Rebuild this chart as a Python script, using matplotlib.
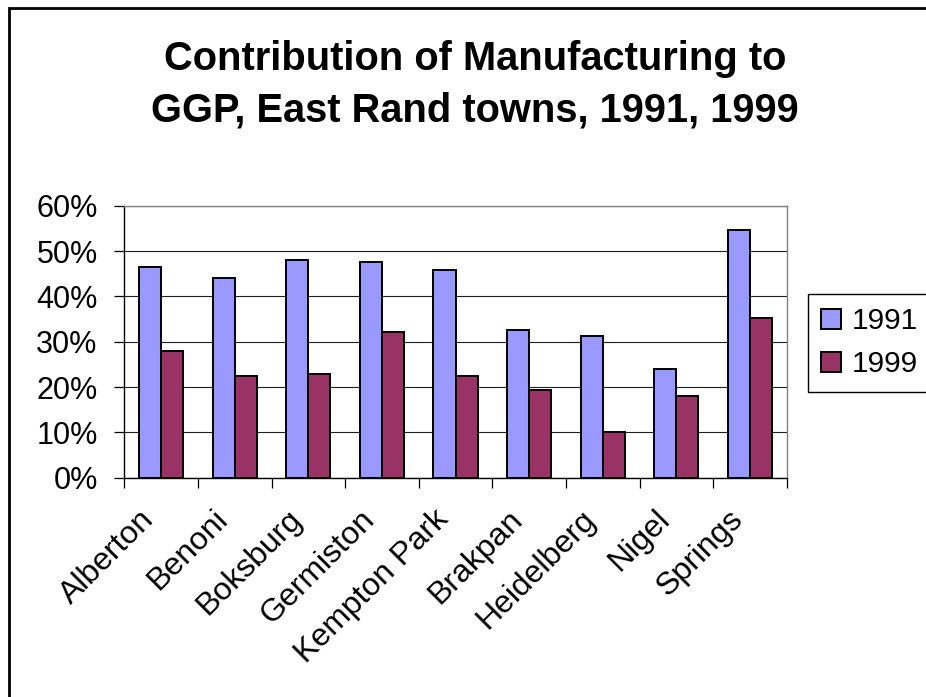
import matplotlib
matplotlib.use("Agg")
import matplotlib.pyplot as plt
import matplotlib.transforms as mtransforms
from matplotlib.patches import Rectangle
import numpy as np

towns = ["Alberton", "Benoni", "Boksburg", "Germiston", "Kempton Park",
         "Brakpan", "Heidelberg", "Nigel", "Springs"]
v1991 = [46.4, 44.0, 48.0, 47.6, 45.8, 32.6, 31.3, 23.9, 54.7]
v1999 = [27.9, 22.4, 22.9, 32.2, 22.4, 19.3, 10.1, 18.0, 35.2]
series_names = ["1991", "1999"]
yticks = [0, 10, 20, 30, 40, 50, 60]
ytick_labels = ["0%", "10%", "20%", "30%", "40%", "50%", "60%"]
title_lines = ["Contribution of Manufacturing to", "GGP, East Rand towns, 1991, 1999"]

c1991 = "#9999FF"
c1999 = "#993366"

plt.rcParams["font.family"] = ["Liberation Sans", "DejaVu Sans"]

W, H = 926, 697
fig = plt.figure(figsize=(W / 100, H / 100), dpi=100)
fig.patch.set_facecolor("white")

ax = fig.add_axes([124.3 / W, 1 - 477.7 / H, (786.7 - 124.3) / W, (477.7 - 205.7) / H])

x = np.arange(len(towns))
bw = 0.3
b1 = ax.bar(x - bw / 2, v1991, width=bw, color=c1991, edgecolor="black", linewidth=1.4,
            label=series_names[0], zorder=3)
b2 = ax.bar(x + bw / 2, v1999, width=bw, color=c1999, edgecolor="black", linewidth=1.4,
            label=series_names[1], zorder=3)

ax.set_xlim(-0.5, len(towns) - 0.5)
ax.set_ylim(0, 60)
ax.set_yticks(yticks)
ax.set_yticklabels(ytick_labels, fontsize=22)
ax.yaxis.grid(True, color="#202020", linewidth=0.8, zorder=0)
ax.set_axisbelow(True)
ax.tick_params(axis="y", direction="out", length=7.2, width=0.9, color="black", pad=12)

ax.set_xticks(x)
ax.set_xticks(np.arange(len(towns) + 1) - 0.5, minor=True)
ax.tick_params(axis="x", which="major", length=0, pad=19)
ax.tick_params(axis="x", which="minor", direction="out", length=7.2, width=0.9, color="black")
labels = ax.set_xticklabels(towns, fontsize=23, rotation=45, ha="right", va="top",
                            rotation_mode="anchor")
offset = mtransforms.ScaledTranslation(-22 / 100, 0, fig.dpi_scale_trans)
for lab in ax.get_xticklabels():
    lab.set_transform(lab.get_transform() + offset)

for s in ["left", "bottom"]:
    ax.spines[s].set_color("black")
    ax.spines[s].set_linewidth(1.0)
for s in ["top", "right"]:
    ax.spines[s].set_color("#808080")
    ax.spines[s].set_linewidth(1.0)

# title
fig.text(475 / W, 1 - 70 / H, title_lines[0], ha="center", va="baseline",
         fontsize=28.7, fontweight="bold")
fig.text(475 / W, 1 - 121 / H, title_lines[1], ha="center", va="baseline",
         fontsize=28.7, fontweight="bold")

# legend
leg = fig.legend(handles=[b1, b2], labels=series_names, loc="upper left",
                 bbox_to_anchor=(808 / W, 1 - 294 / H), bbox_transform=fig.transFigure,
                 fontsize=21.5, frameon=True, fancybox=False, shadow=False,
                 handlelength=0.67, handleheight=0.67, handletextpad=0.35,
                 labelspacing=0.5, borderpad=0.45, borderaxespad=0)
leg.get_frame().set_edgecolor("black")
leg.get_frame().set_linewidth(1.0)
leg.get_frame().set_alpha(1)

# outer chart border
fig.patches.append(Rectangle((8.5 / W, -0.05), 1.2, 1 - 7.5 / H + 0.05, transform=fig.transFigure,
                             fill=False, edgecolor="black", linewidth=2.0))

fig.savefig("out.png", dpi=100, facecolor="white")
